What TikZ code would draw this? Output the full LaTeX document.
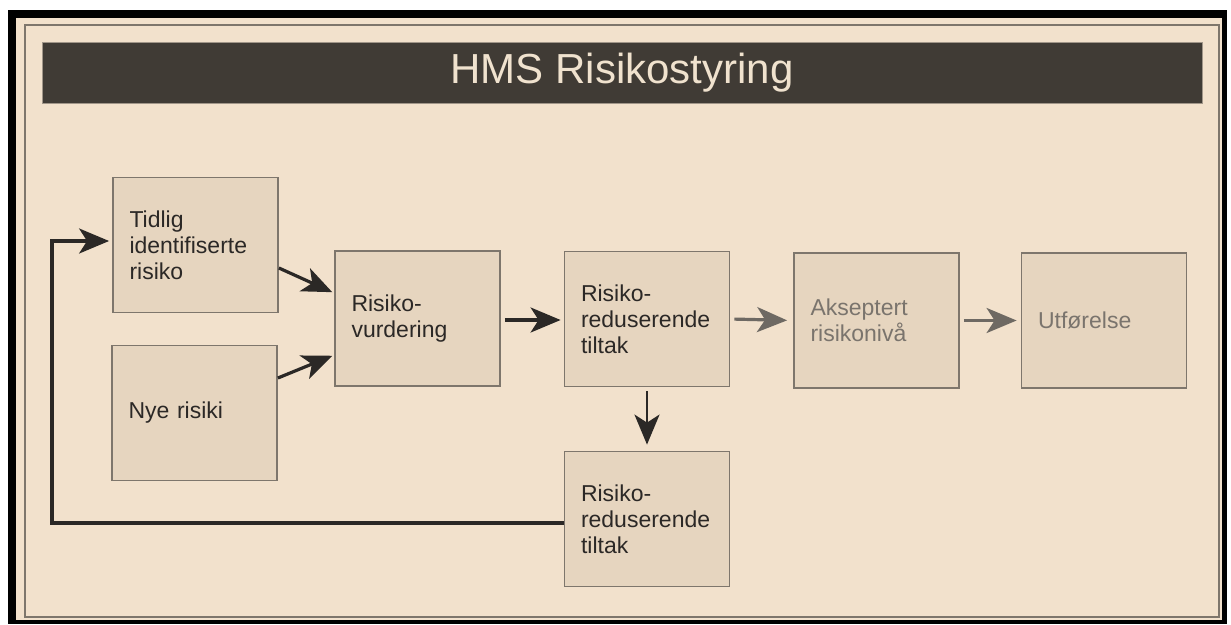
\documentclass[tikz,border=0pt]{standalone}
\usepackage{fontspec}
\setmainfont{Liberation Sans}
\usetikzlibrary{arrows.meta}
\definecolor{paper}{HTML}{F2E1CC}
\definecolor{boxfill}{HTML}{E6D5BF}
\definecolor{boxline}{HTML}{7E766C}
\definecolor{titlebar}{HTML}{403B35}
\definecolor{titletext}{HTML}{F0E2CE}
\definecolor{ink}{HTML}{2B2826}
\definecolor{soft}{HTML}{6E6963}
\definecolor{softtext}{HTML}{7A746D}
\tikzset{
  stepbox/.style={draw=boxline, line width=1.8pt, fill=boxfill,
    minimum width=165pt, minimum height=135pt, text width=132pt,
    inner xsep=16.5pt, align=left, text=ink,
    font=\fontsize{23}{26}\selectfont},
  fadedbox/.style={stepbox, text=softtext},
  bigtip/.tip={Stealth[length=30pt, width=25pt, inset=8pt]},
  flow/.style={line width=3.2pt, draw=ink, -bigtip},
  softflow/.style={flow, draw=soft},
}
\begin{document}
\begin{tikzpicture}[x=1pt, y=-1pt]
\useasboundingbox (0,0) rectangle (1231,624);
\fill[white] (0,0) rectangle (1231,624);
% outer frame and panel
\fill[black] (8,10) rectangle (1227,624);
\fill[paper] (16,18) rectangle (1222,620);
\draw[boxline, line width=1.5pt] (25,25) rectangle (1219,617);
% title bar
\node[fill=titlebar, draw=boxline!70!paper, line width=1pt,
  minimum width=1160pt, minimum height=61pt, inner sep=0pt,
  text=titletext, font=\fontsize{42}{46}\selectfont] (title) at (622,72.5) {HMS Risikostyring};
% steps
\node[stepbox] (tidlig) at (195.5,245) {Tidlig\\identifiserte\\risiko};
\node[stepbox] (nye) at (194.5,413) {Nye risiki\\[6pt]};
\node[stepbox] (vurd) at (417.5,318.5) {Risiko-\\vurdering};
\node[stepbox] (tiltak) at (647,319) {Risiko-\\reduserende\\tiltak};
\node[fadedbox] (aksept) at (876.5,320.5) {Akseptert\\risikonivå};
\node[fadedbox] (utf) at (1104,320.5) {Utførelse};
\node[stepbox] (tiltakb) at (647,519) {Risiko-\\reduserende\\tiltak};
% connectors
\draw[flow, shorten >=2pt] ([yshift=-23pt]tidlig.east) -- ([yshift=25.5pt]vurd.west);
\draw[flow, shorten >=2pt] ([yshift=35pt]nye.east) -- ([yshift=-36.5pt]vurd.west);
\draw[flow, shorten <=4pt, shorten >=3pt] ([yshift=-1.5pt]vurd.east) -- ([yshift=-1pt]tiltak.west);
\draw[softflow, shorten <=4pt, shorten >=6pt] (tiltak.east) -- (aksept.west);
\draw[softflow, shorten <=4pt, shorten >=4pt] (aksept.east) -- (utf.west);
\draw[flow, line width=2.6pt, shorten <=4pt, shorten >=6pt] (tiltak.south) -- (tiltakb.north);
\coordinate (loopa) at (52,523);
\coordinate (loopb) at (52,241);
\draw[flow, line cap=butt, line join=miter, shorten >=3pt]
  ([yshift=-4pt]tiltakb.west) -- (loopa) -- (loopb) -- ([yshift=4pt]tidlig.west);
\end{tikzpicture}
\end{document}
